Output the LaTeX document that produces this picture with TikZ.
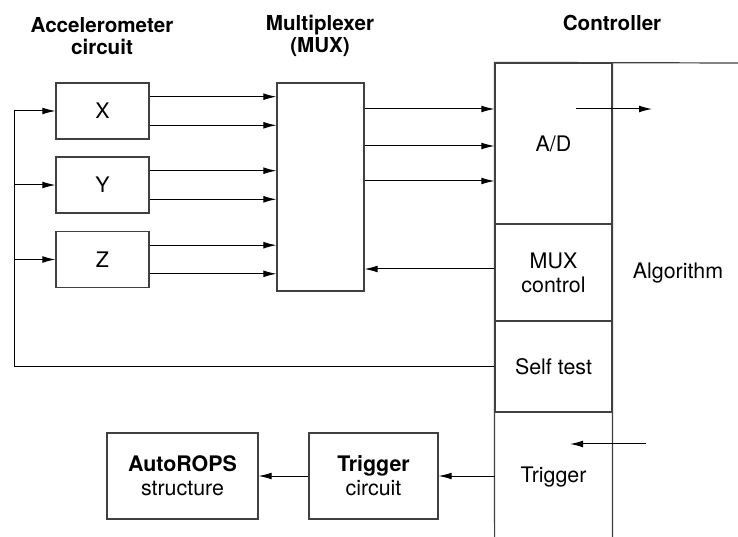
\documentclass[tikz,border=0pt]{standalone}
\usepackage{fontspec}
\setmainfont{TeX Gyre Heros}
\usetikzlibrary{arrows.meta}
\usetikzlibrary{calc}

\tikzset{
  block/.style = {draw = black!75, line width = 0.6bp, minimum width = 46.5bp,
    minimum height = 28bp, inner sep = 0pt},
  title/.style = {font = \bfseries\fontsize{10.3bp}{11bp}\selectfont},
  sig/.style = {-{Latex[length = 6.5bp, width = 3.4bp]}, line width = 0.5bp},
  frame/.style = {draw = black!75, line width = 0.6bp}
}

\begin{document}
\begin{tikzpicture}[x = 0.5bp, y = -0.5bp,
  every node/.style = {align = center, font = \fontsize{10.7bp}{12bp}\selectfont}]
  \useasboundingbox (0, 0) rectangle (738, 537);

  % titles
  \node[title] (acctitle) at (102, 36) {Accelerometer\\circuit};
  \node[title] (muxtitle) at (320, 36) {Multiplexer\\(MUX)};
  \node[title] (ctrltitle) at (612, 23) {Controller};

  % accelerometer
  \node[block] (X) at (102.5, 111) {X};
  \node[block] (Y) at (102.5, 185) {Y};
  \node[block] (Z) at (102.5, 259.5) {Z};

  % multiplexer
  \node[block, minimum width = 43.5bp, minimum height = 104bp] (mux) at (320.5, 187) {};

  % controller
  \node[block, minimum width = 58.5bp, minimum height = 80.5bp] (ad) at (553.5, 143.5) {A/D};
  \node[block, minimum width = 58.5bp, minimum height = 48.5bp] (muxc) at (553.5, 272.5) {MUX\\control};
  \node[block, minimum width = 58.5bp, minimum height = 45.5bp] (st) at (553.5, 366.5) {Self test};
  \node[inner sep = 0pt, minimum width = 58.5bp, minimum height = 62.5bp] (trig) at (553.5, 477) {Trigger};
  \node (algo) at (678, 273) {Algorithm};
  \draw[frame] (trig.south west) -- (ad.north west) -- (738, 63);
  \draw[frame] (ad.north east) -- (trig.south east);

  % AutoROPS side
  \node[block, minimum width = 75.5bp, minimum height = 43bp] (rops) at (182.5, 476) {\textbf{AutoROPS}\\structure};
  \node[block, minimum width = 64.5bp, minimum height = 43bp] (tcirc) at (373.5, 476) {\textbf{Trigger}\\circuit};

  % signals into the MUX
  \foreach \acc in {X, Y, Z}
    \foreach \f in {0.25, 0.75} {
      \coordinate (out) at ($(\acc.north east)!\f!(\acc.south east)$);
      \draw[sig] (out) -- (out -| mux.west);
    }

  % MUX to A/D and back
  \foreach \yy in {109, 146, 181}
    \draw[sig] (mux.east |- 0, \yy) -- (ad.west |- 0, \yy);
  \draw[sig] (muxc.west |- 0, 269) -- (mux.east |- 0, 269);

  % through the algorithm
  \coordinate (adout) at (576, 109);
  \coordinate (algoin) at (652, 109);
  \draw[sig] (adout) -- (algoin);
  \coordinate (algoout) at (646, 444);
  \coordinate (trigin) at (570, 444);
  \draw[sig] (algoout) -- (trigin);

  % self test feedback
  \coordinate (bus) at (14, 111);
  \draw[line width = 0.5bp] (st.west) -| (bus);
  \draw[sig] (bus) -- (X.west);
  \draw[sig] (Y.west -| bus) -- (Y.west);
  \draw[sig] (Z.west -| bus) -- (Z.west);

  % trigger
  \draw[sig] (trig.west |- tcirc.east) -- (tcirc.east);
  \draw[sig] (tcirc.west) -- (rops.east);
\end{tikzpicture}
\end{document}
